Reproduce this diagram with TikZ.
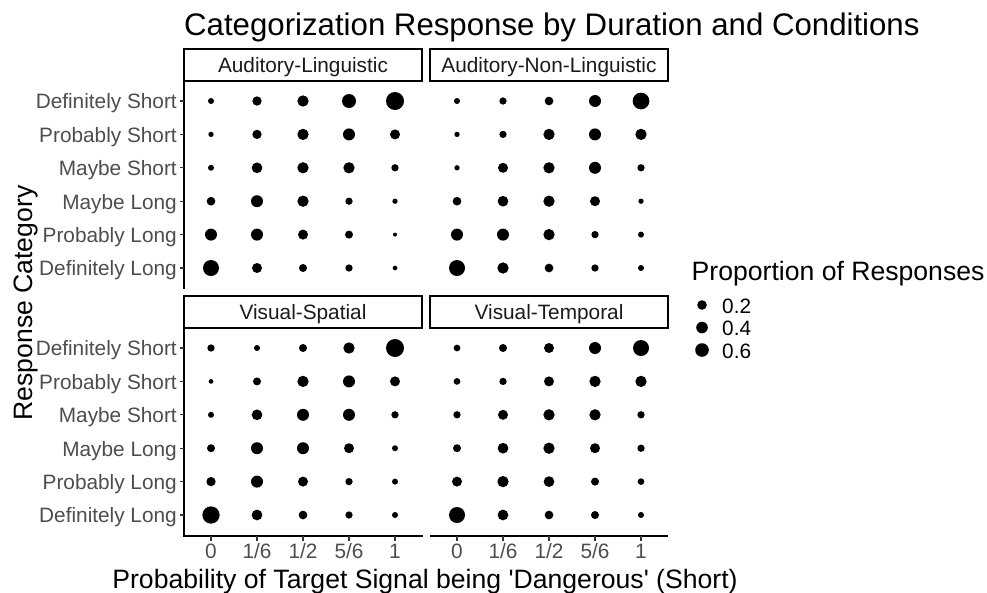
\documentclass[tikz,border=0pt]{standalone}
\usepackage{fontspec}
\setmainfont{Liberation Sans}
\definecolor{tickgray}{HTML}{4D4D4D}
\definecolor{stripgray}{HTML}{1A1A1A}
\definecolor{tickline}{HTML}{333333}
\newcommand\paneldots[3]{%
  \foreach \vr/\va/\vb/\vc/\vd/\ve in {#3} {
    \foreach \vk/\vdd in {0/\va,1/\vb,2/\vc,3/\vd,4/\ve}
      \fill ({#1+\vk*46},{#2+\vr*33.4}) circle[radius={\vdd*0.5pt}];
  }}
\begin{document}
\begin{tikzpicture}[x=1pt,y=-1pt,
  ticklab/.style={font=\fontsize{20.8}{24}\selectfont, text=tickgray, inner sep=0pt},
  striplab/.style={font=\fontsize{20.8}{24}\selectfont, text=stripgray, inner sep=0pt, anchor=base},
  stripbox/.style={draw=black, line width=1.7pt},
  axisline/.style={draw=black, line width=1.1pt},
  tickmark/.style={draw=tickline, line width=1.1pt},
  bigtitle/.style={font=\fontsize{26.6}{30}\selectfont, text=black, inner sep=0pt},
  legtext/.style={font=\fontsize{20.8}{24}\selectfont, text=black, inner sep=0pt, anchor=base west}]
\useasboundingbox (0,0) rectangle (987,592);

% title
\node[font=\fontsize{31.2}{36}\selectfont, inner sep=0pt, anchor=base west] (title) at (184,35) {Categorization Response by Duration and Conditions};

% strips
\draw[stripbox] (184,49) rectangle (422,81);
\draw[stripbox] (430,49) rectangle (668,81);
\draw[stripbox] (184,296) rectangle (422,328);
\draw[stripbox] (430,296) rectangle (668,328);
\node[striplab] (s1) at (303,72.5) {Auditory-Linguistic};
\node[striplab] (s2) at (549,72.5) {Auditory-Non-Linguistic};
\node[striplab] (s3) at (303,319.5) {Visual-Spatial};
\node[striplab] (s4) at (549,319.5) {Visual-Temporal};

% axis lines
\draw[axisline] (184,81) -- (184,288.5);
\draw[axisline] (184,328) -- (184,536) -- (422.5,536);
\draw[axisline] (430,536) -- (668,536);

% y ticks and labels
\foreach \lab [count=\i from 0] in {Definitely Short,Probably Short,Maybe Short,Maybe Long,Probably Long,Definitely Long} {
  \draw[tickmark] (179.5,{101+\i*33.4}) -- (184,{101+\i*33.4});
  \draw[tickmark] (179.5,{348+\i*33.4}) -- (184,{348+\i*33.4});
  \node[ticklab, anchor=base east] (yt\i) at (177,{101+\i*33.4+7.8}) {\lab};
  \node[ticklab, anchor=base east] (yb\i) at (177,{348+\i*33.4+7.8}) {\lab};
}

% x ticks and labels
\foreach \lab [count=\i from 0] in {0,1/6,1/2,5/6,1} {
  \draw[tickmark] ({211+\i*46},536) -- ({211+\i*46},540.5);
  \draw[tickmark] ({457+\i*46},536) -- ({457+\i*46},540.5);
  \node[ticklab, anchor=base] (xl\i) at ({211+\i*46},558) {\lab};
  \node[ticklab, anchor=base] (xr\i) at ({457+\i*46},558) {\lab};
}

% axis titles
\node[bigtitle, anchor=base] (xtitle) at (425,588) {Probability of Target Signal being \textquotesingle Dangerous\textquotesingle{} (Short)};
\node[bigtitle, anchor=base, rotate=90] (ytitle) at (32,303) {Response Category};

% dots: panel Auditory-Linguistic
\paneldots{211}{101}{0/6/9.3/11.3/14/18, 1/5.3/9.3/11.3/12/10, 2/6/10.7/11.3/11.3/7.3, 3/8.7/12/11.3/7.3/5.3, 4/12/12/10/8/4, 5/16/10/8/7.3/4.7}
% Auditory-Non-Linguistic
\paneldots{457}{101}{0/6/7.3/8.7/12/16.7, 1/5.3/7.3/11.3/12/11.3, 2/5.3/10/11.3/12/7.3, 3/8.7/10.7/11.3/10/5.3, 4/12/12/11.3/7.3/6, 5/16/11.3/8.7/7.3/6}
% Visual-Spatial
\paneldots{211}{348}{0/7.3/6/8/11.3/18, 1/4.7/8/11.3/12/10, 2/6/10.7/12/12/7.3, 3/8/12/12/10/6, 4/9.3/12/10/7.3/6, 5/17.3/10.7/8.7/7.3/6}
% Visual-Temporal
\paneldots{457}{348}{0/6.7/8/10/12/16, 1/6.7/7.3/10/11.3/11.3, 2/7.3/10/11.3/11.3/7.3, 3/8/10.7/11.3/10/7.3, 4/10/11.3/10.7/8/6.7, 5/16/10.7/8.7/8/6}

% legend
\node[bigtitle, anchor=base west] (legtitle) at (691.5,280) {Proportion of Responses};
\fill (702,305) circle[radius=4.8pt];
\fill (702,327.5) circle[radius=5.8pt];
\fill (702,350) circle[radius=6.8pt];
\node[legtext] (l1) at (722,313) {0.2};
\node[legtext] (l2) at (722,335.5) {0.4};
\node[legtext] (l3) at (722,358) {0.6};
\end{tikzpicture}
\end{document}
